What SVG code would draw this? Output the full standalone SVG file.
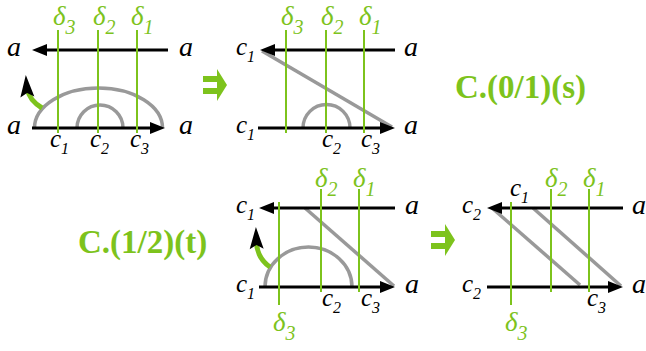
<svg xmlns="http://www.w3.org/2000/svg" width="646" height="351" viewBox="0 0 646 351">
<style>
.bk{stroke:#000;stroke-width:3;fill:none;marker-end:url(#ah)}
.gy{stroke:#999;stroke-width:3.5;fill:none}
.gn{stroke:#7dc31c;stroke-width:2;fill:none}
.cv{stroke:#7dc31c;stroke-width:5;fill:none}
.hd{fill:#000}
.lb{font-family:"Liberation Serif","Times New Roman",serif;font-style:italic;font-size:25px;fill:#000}
.la{font-family:"Liberation Serif","Times New Roman",serif;font-style:italic;font-size:28px;fill:#000}
.sb{font-size:16px}
.dl{font-family:"Liberation Serif","Times New Roman",serif;font-style:italic;font-size:27px;fill:#7dc31c}
.ds{font-size:20px}
.tt{font-family:"Liberation Serif","Times New Roman",serif;font-weight:bold;font-size:33px;fill:#7dc31c}
</style>
<defs>
<marker id="ah" viewBox="0 0 15 12" refX="0" refY="6" markerWidth="15" markerHeight="12" markerUnits="userSpaceOnUse" orient="auto">
<path d="M0,0 L15,6 L0,12 z" fill="#000"/>
</marker>
<path id="chead" d="M0,-17 L7,5 L0,1 L-7,5 z"/>
<g id="dbl">
<rect x="0" y="-9" width="15" height="6" fill="#7dc31c"/>
<rect x="0" y="3" width="15" height="6" fill="#7dc31c"/>
<path d="M14,-16 L24,0 L14,16 z" fill="#7dc31c"/>
</g>
</defs>

<g id="panel1">
<path class="gy" d="M34.5,128 A64,40 0 0 1 162.5,128"/>
<path class="gy" d="M77,128 A23,23 0 0 1 123,128"/>
<path class="bk" d="M168,50 L47,50"/>
<path class="bk" d="M32,128 L150,128"/>
<path class="cv" d="M42,108 Q29,100 27.5,89"/>
<use class="hd" href="#chead" transform="translate(27,92) rotate(-4)"/>
<path class="gn" d="M58,30 V133 M98,30 V133 M137,30 V133"/>
<text class="la" x="7" y="56">a</text>
<text class="la" x="179" y="56">a</text>
<text class="la" x="7" y="134">a</text>
<text class="la" x="179" y="134">a</text>
<text class="dl" x="53" y="25">δ<tspan class="ds" dy="9">3</tspan></text>
<text class="dl" x="93" y="25">δ<tspan class="ds" dy="9">2</tspan></text>
<text class="dl" x="131" y="25">δ<tspan class="ds" dy="9">1</tspan></text>
<text class="lb" x="50" y="147">c<tspan class="sb" dy="7">1</tspan></text>
<text class="lb" x="90" y="147">c<tspan class="sb" dy="7">2</tspan></text>
<text class="lb" x="130" y="147">c<tspan class="sb" dy="7">3</tspan></text>
</g>

<use id="arrow1" href="#dbl" x="203" y="85"/>

<g id="panel2">
<path class="gy" d="M303,128 A23.5,23.5 0 0 1 350,128"/>
<path class="gy" d="M262,51 L392,127"/>
<path class="bk" d="M395,50 L275,50"/>
<path class="bk" d="M258,128 L380,128"/>
<path class="gn" d="M286,30 V133 M326,30 V133 M364,30 V133"/>
<text class="lb" x="236" y="55">c<tspan class="sb" dy="7">1</tspan></text>
<text class="lb" x="236" y="133">c<tspan class="sb" dy="7">1</tspan></text>
<text class="la" x="404" y="56">a</text>
<text class="la" x="404" y="134">a</text>
<text class="dl" x="281" y="25">δ<tspan class="ds" dy="9">3</tspan></text>
<text class="dl" x="321" y="25">δ<tspan class="ds" dy="9">2</tspan></text>
<text class="dl" x="359" y="25">δ<tspan class="ds" dy="9">1</tspan></text>
<text class="lb" x="322" y="147">c<tspan class="sb" dy="7">2</tspan></text>
<text class="lb" x="361" y="147">c<tspan class="sb" dy="7">3</tspan></text>
</g>

<text id="title1" class="tt" x="455" y="98">C.(0/1)(s)</text>
<text id="title2" class="tt" x="78" y="253">C.(1/2)(t)</text>

<g id="panel3">
<path class="gy" d="M265,287 A43.5,40 0 0 1 352,287"/>
<path class="gy" d="M305,208 L394,286"/>
<path class="bk" d="M395,208 L274,208"/>
<path class="bk" d="M259,287 L380,287"/>
<path class="cv" d="M270,267 Q257,258 256.5,242"/>
<use class="hd" href="#chead" transform="translate(256.5,244) rotate(-2)"/>
<path class="gn" d="M279,202 V305 M321,189 V292 M359,189 V292"/>
<text class="lb" x="236" y="213">c<tspan class="sb" dy="7">1</tspan></text>
<text class="lb" x="236" y="292">c<tspan class="sb" dy="7">1</tspan></text>
<text class="la" x="405" y="214">a</text>
<text class="la" x="405" y="293">a</text>
<text class="dl" x="315" y="187">δ<tspan class="ds" dy="9">2</tspan></text>
<text class="dl" x="353" y="187">δ<tspan class="ds" dy="9">1</tspan></text>
<text class="dl" x="273" y="331">δ<tspan class="ds" dy="9">3</tspan></text>
<text class="lb" x="322" y="306">c<tspan class="sb" dy="7">2</tspan></text>
<text class="lb" x="361" y="306">c<tspan class="sb" dy="7">3</tspan></text>
</g>

<use id="arrow2" href="#dbl" x="431" y="240"/>

<g id="panel4">
<path class="gy" d="M492,208 L580,285"/>
<path class="gy" d="M533,208 L621,286"/>
<path class="bk" d="M623,208 L502,208"/>
<path class="bk" d="M487,287 L608,287"/>
<path class="gn" d="M511,202 V305 M551,189 V292 M589,189 V292"/>
<text class="lb" x="462" y="213">c<tspan class="sb" dy="7">2</tspan></text>
<text class="lb" x="462" y="292">c<tspan class="sb" dy="7">2</tspan></text>
<text class="lb" x="510" y="196">c<tspan class="sb" dy="7">1</tspan></text>
<text class="la" x="632" y="214">a</text>
<text class="la" x="632" y="293">a</text>
<text class="dl" x="545" y="187">δ<tspan class="ds" dy="9">2</tspan></text>
<text class="dl" x="583" y="187">δ<tspan class="ds" dy="9">1</tspan></text>
<text class="dl" x="505" y="331">δ<tspan class="ds" dy="9">3</tspan></text>
<text class="lb" x="587" y="306">c<tspan class="sb" dy="7">3</tspan></text>
</g>
</svg>
